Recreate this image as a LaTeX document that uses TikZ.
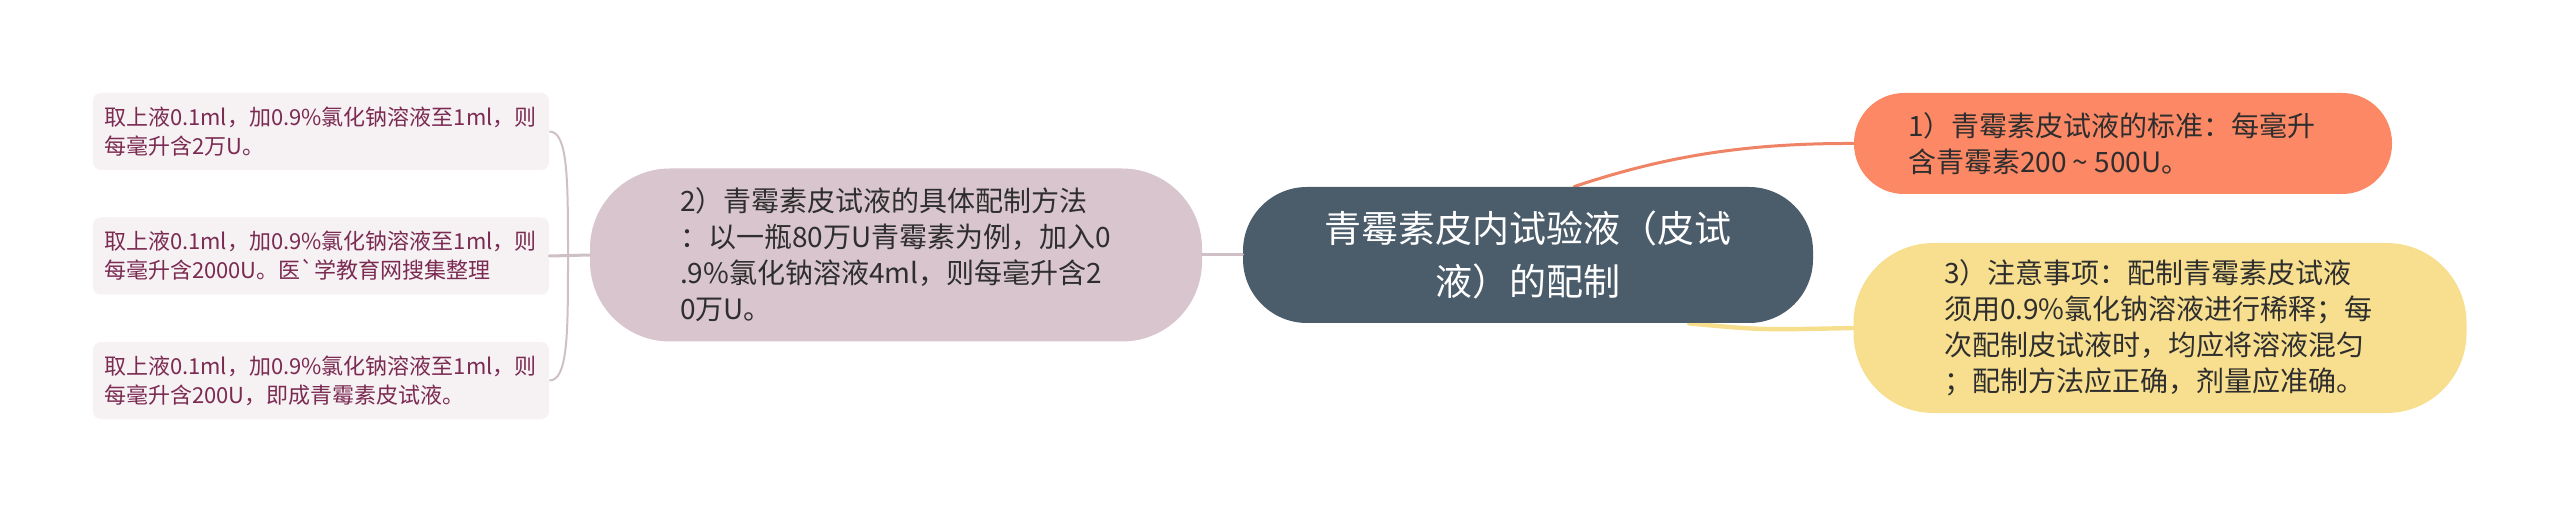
\documentclass[tikz,border=0pt]{standalone}
\usepackage{fontspec}
\setmainfont{Noto Sans CJK SC}
\newfontfamily\rawfont{Noto Sans CJK SC}
\usepackage{tikz}
\usetikzlibrary{backgrounds}
\definecolor{rootfill}{HTML}{4B5C6B}
\definecolor{onefill}{HTML}{FC8865}
\definecolor{twofill}{HTML}{D8C5CD}
\definecolor{threefill}{HTML}{F7DF8F}
\definecolor{leaffill}{HTML}{F6F1F3}
\definecolor{leaftext}{HTML}{7B2B52}
\definecolor{darktext}{HTML}{2E2E2E}
\definecolor{oneline}{HTML}{EE8366}
\definecolor{threeline}{HTML}{F6DE8C}
\definecolor{greyline}{HTML}{CFC0C8}

\begin{document}
\begin{tikzpicture}[x=0.5pt,y=-0.5pt,
    branch/.style={align=left, text width=216pt, inner sep=0pt, text=darktext, font=\fontsize{14}{18}\selectfont},
    leaf/.style={fill=leaffill, rounded corners=4pt, minimum width=228pt, minimum height=38.5pt, align=left, text width=217pt, inner sep=0pt, text=leaftext, font=\fontsize{11}{14.5}\selectfont},
    link/.style={line width=1.5pt, line cap=round}]
        \useasboundingbox (0,0) rectangle (2560,513);
        % centre
        \node[fill=rootfill, rounded corners=32pt, minimum width=285pt, minimum height=68pt, text=white, align=center, inner sep=0pt, font=\fontsize{18.5}{26.5}\selectfont] (root) at (1528,255) {青霉素皮内试验液（皮试\\液）的配制};
        % right side
        \node[branch, fill=onefill, rounded corners=25pt, minimum width=269pt, minimum height=50.5pt, text width=215pt] (one) at (2123,143.5) {1）青霉素皮试液的标准：每毫升\\含青霉素200\makebox[1em]{\textasciitilde}500U。};
        \node[branch, fill=threefill, rounded corners=40pt, minimum width=306.5pt, minimum height=85pt] (three) at (2160,328) {3）注意事项：配制青霉素皮试液\\须用0.9\%氯化钠溶液进行稀释；每\\次配制皮试液时，均应将溶液混匀\\；配制方法应正确，剂量应准确。};
        % left side
        \node[branch, fill=twofill, rounded corners=40pt, minimum width=306pt, minimum height=86.5pt] (two) at (896,255) {2）青霉素皮试液的具体配制方法\\：以一瓶80万U青霉素为例，加入0\\.9\%氯化钠溶液4ml，则每毫升含2\\0万U。};
        \node[leaf] (leafa) at (321,131.5) {取上液0.1ml，加0.9\%氯化钠溶液至1ml，则\\每毫升含2万U。};
        \node[leaf] (leafb) at (321,256) {取上液0.1ml，加0.9\%氯化钠溶液至1ml，则\\每毫升含2000U。医{\rawfont`}学教育网搜集整理};
        \node[leaf] (leafc) at (321,380.5) {取上液0.1ml，加0.9\%氯化钠溶液至1ml，则\\每毫升含200U，即成青霉素皮试液。};
        \coordinate (hub) at (568,256);
        % connectors
        \begin{scope}[on background layer]
            \fill[white] (0,0) rectangle (2560,513);
            \draw[link, draw=oneline] (root.56) .. controls (1660,158) and (1740,143) .. (one.west);
            \draw[link, draw=threeline, line width=2.2pt] (root.-23) .. controls (1760,330) .. (three.west);
        \end{scope}
        \draw[link, draw=greyline] (root.west) -- (two.east);
        \draw[link, draw=greyline] (two.west) -- (leafb.east);
        \draw[draw=greyline, line width=1pt] (leafa.east) .. controls (568,131.5) and (568,180) .. (hub) .. controls (568,333) and (568,380.5) .. (leafc.east);
\end{tikzpicture}
\end{document}
